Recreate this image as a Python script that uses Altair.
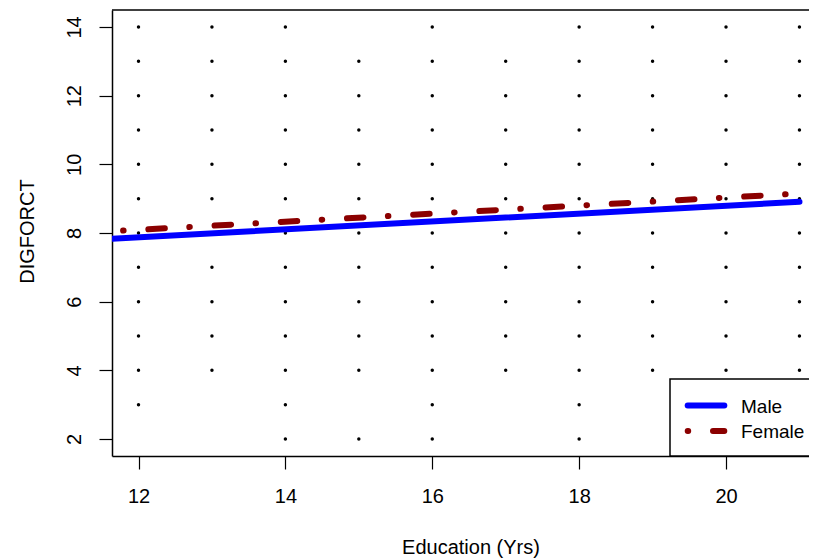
import altair as alt
import pandas as pd

# ---- data ----
education_levels = [12, 13, 14, 15, 16, 17, 18, 19, 20, 21]
digforct_at_12 = [3, 4, 5, 6, 7, 8, 9, 10, 11, 12, 13, 14]
digforct_at_13 = [4, 5, 6, 7, 8, 9, 10, 11, 12, 13, 14]
digforct_at_14 = [2, 3, 4, 5, 6, 7, 8, 9, 10, 11, 12, 13, 14]
digforct_at_15 = [2, 4, 5, 6, 7, 8, 9, 10, 11, 12, 13]
digforct_at_16 = [2, 3, 4, 5, 6, 7, 8, 9, 10, 11, 12, 13, 14]
digforct_at_17 = [4, 5, 6, 7, 8, 9, 10, 11, 12, 13]
digforct_at_18 = [2, 3, 4, 5, 6, 7, 8, 9, 10, 11, 12, 13, 14]
digforct_at_19 = [4, 5, 6, 7, 8, 9, 10, 11, 12, 13, 14]
digforct_at_20 = [4, 5, 6, 7, 8, 9, 10, 11, 12, 13, 14]
digforct_at_21 = [4, 5, 6, 7, 8, 9, 10, 11, 12, 13, 14]
digforct_lists = [digforct_at_12, digforct_at_13, digforct_at_14, digforct_at_15,
                  digforct_at_16, digforct_at_17, digforct_at_18, digforct_at_19,
                  digforct_at_20, digforct_at_21]

series = ["Male", "Female"]
series_colors = ["#0000FF", "#8B0000"]
male_edu = [11.60, 21.0]
male_fit = [7.83, 8.91]
female_edu = [11.79, 21.0]
female_fit = [8.07, 9.15]

x_ticks = [12, 14, 16, 18, 20]
y_ticks = [2, 4, 6, 8, 10, 12, 14]

# ---- tables ----
pts = pd.DataFrame(
    [(e, d) for e, lst in zip(education_levels, digforct_lists) for d in lst],
    columns=["edu", "dig"],
)
male_df = pd.DataFrame({"edu": male_edu, "dig": male_fit, "sex": series[0]})
female_df = pd.DataFrame({"edu": female_edu, "dig": female_fit, "sex": series[1]})
dummy = pd.DataFrame({"k": [0]})

FONT = "Liberation Sans"
DASH = [0.5, 24.8, 16.5, 24.5]

xscale = alt.Scale(domain=[11.639, 21.130], nice=False, zero=False)
yscale = alt.Scale(domain=[1.505, 14.495], nice=False, zero=False)

xenc = alt.X("edu:Q", scale=xscale,
             axis=alt.Axis(values=x_ticks, format="d", title="Education (Yrs)", labelPadding=17.5,
                           titleX=358.5, titleY=97, titleBaseline="alphabetic",
                           labelFlush=False))
yenc = alt.Y("dig:Q", scale=yscale,
             axis=alt.Axis(values=y_ticks, format="d", title="DIGFORCT", labelAngle=270,
                           labelAlign="center", labelBaseline="alphabetic",
                           labelPadding=19, titleAngle=270, titleX=-79, titleY=221,
                           titleBaseline="alphabetic", titleAlign="center"))

points = alt.Chart(pts).mark_circle(size=12, color="black", opacity=1).encode(x=xenc, y=yenc)

male_line = alt.Chart(male_df).mark_line(
    strokeWidth=6, strokeCap="round", clip=True, color=series_colors[0]
).encode(x="edu:Q", y="dig:Q")

female_line = alt.Chart(female_df).mark_line(
    strokeWidth=6, strokeCap="round", clip=True, color=series_colors[1], strokeDash=DASH
).encode(x="edu:Q", y="dig:Q")

top_border = alt.Chart(dummy).mark_rule(color="black", strokeWidth=1.6).encode(
    x=alt.value(0), x2=alt.value(730), y=alt.value(0))

legend_box = alt.Chart(dummy).mark_rect(fill="white", stroke="black", strokeWidth=1.5).encode(
    x=alt.value(558), x2=alt.value(730), y=alt.value(369), y2=alt.value(446))

leg_male = alt.Chart(dummy).mark_rule(color=series_colors[0], strokeWidth=6, strokeCap="round").encode(
    x=alt.value(575.7), x2=alt.value(612.3), y=alt.value(395.5))
leg_female = alt.Chart(dummy).mark_rule(color=series_colors[1], strokeWidth=6, strokeCap="round",
                                        strokeDash=DASH).encode(
    x=alt.value(575.7), x2=alt.value(612.3), y=alt.value(421))

leg_text_male = alt.Chart(dummy).mark_text(text=series[0], font=FONT, fontSize=19, align="left",
                                           baseline="alphabetic", color="black").encode(
    x=alt.value(629), y=alt.value(402.5))
leg_text_female = alt.Chart(dummy).mark_text(text=series[1], font=FONT, fontSize=19, align="left",
                                             baseline="alphabetic", color="black").encode(
    x=alt.value(629), y=alt.value(428))

chart = alt.layer(
    points, male_line, female_line, legend_box, leg_male, leg_female,
    leg_text_male, leg_text_female, top_border
).properties(
    width=697, height=446,
    autosize=alt.AutoSizeParams(type="none"),
    padding={"left": 104, "top": 2, "right": 0, "bottom": 103},
).configure_view(strokeWidth=0, stroke="transparent").configure_axis(
    grid=False, domainColor="black", domainWidth=1.5, tickColor="black", tickWidth=1.2,
    tickSize=13, labelColor="black", labelFont=FONT, labelFontSize=20,
    titleFont=FONT, titleFontSize=20, titleFontWeight="normal", titleColor="black",
)

chart.save("out.html", embed_options={"renderer": "svg", "actions": False})
